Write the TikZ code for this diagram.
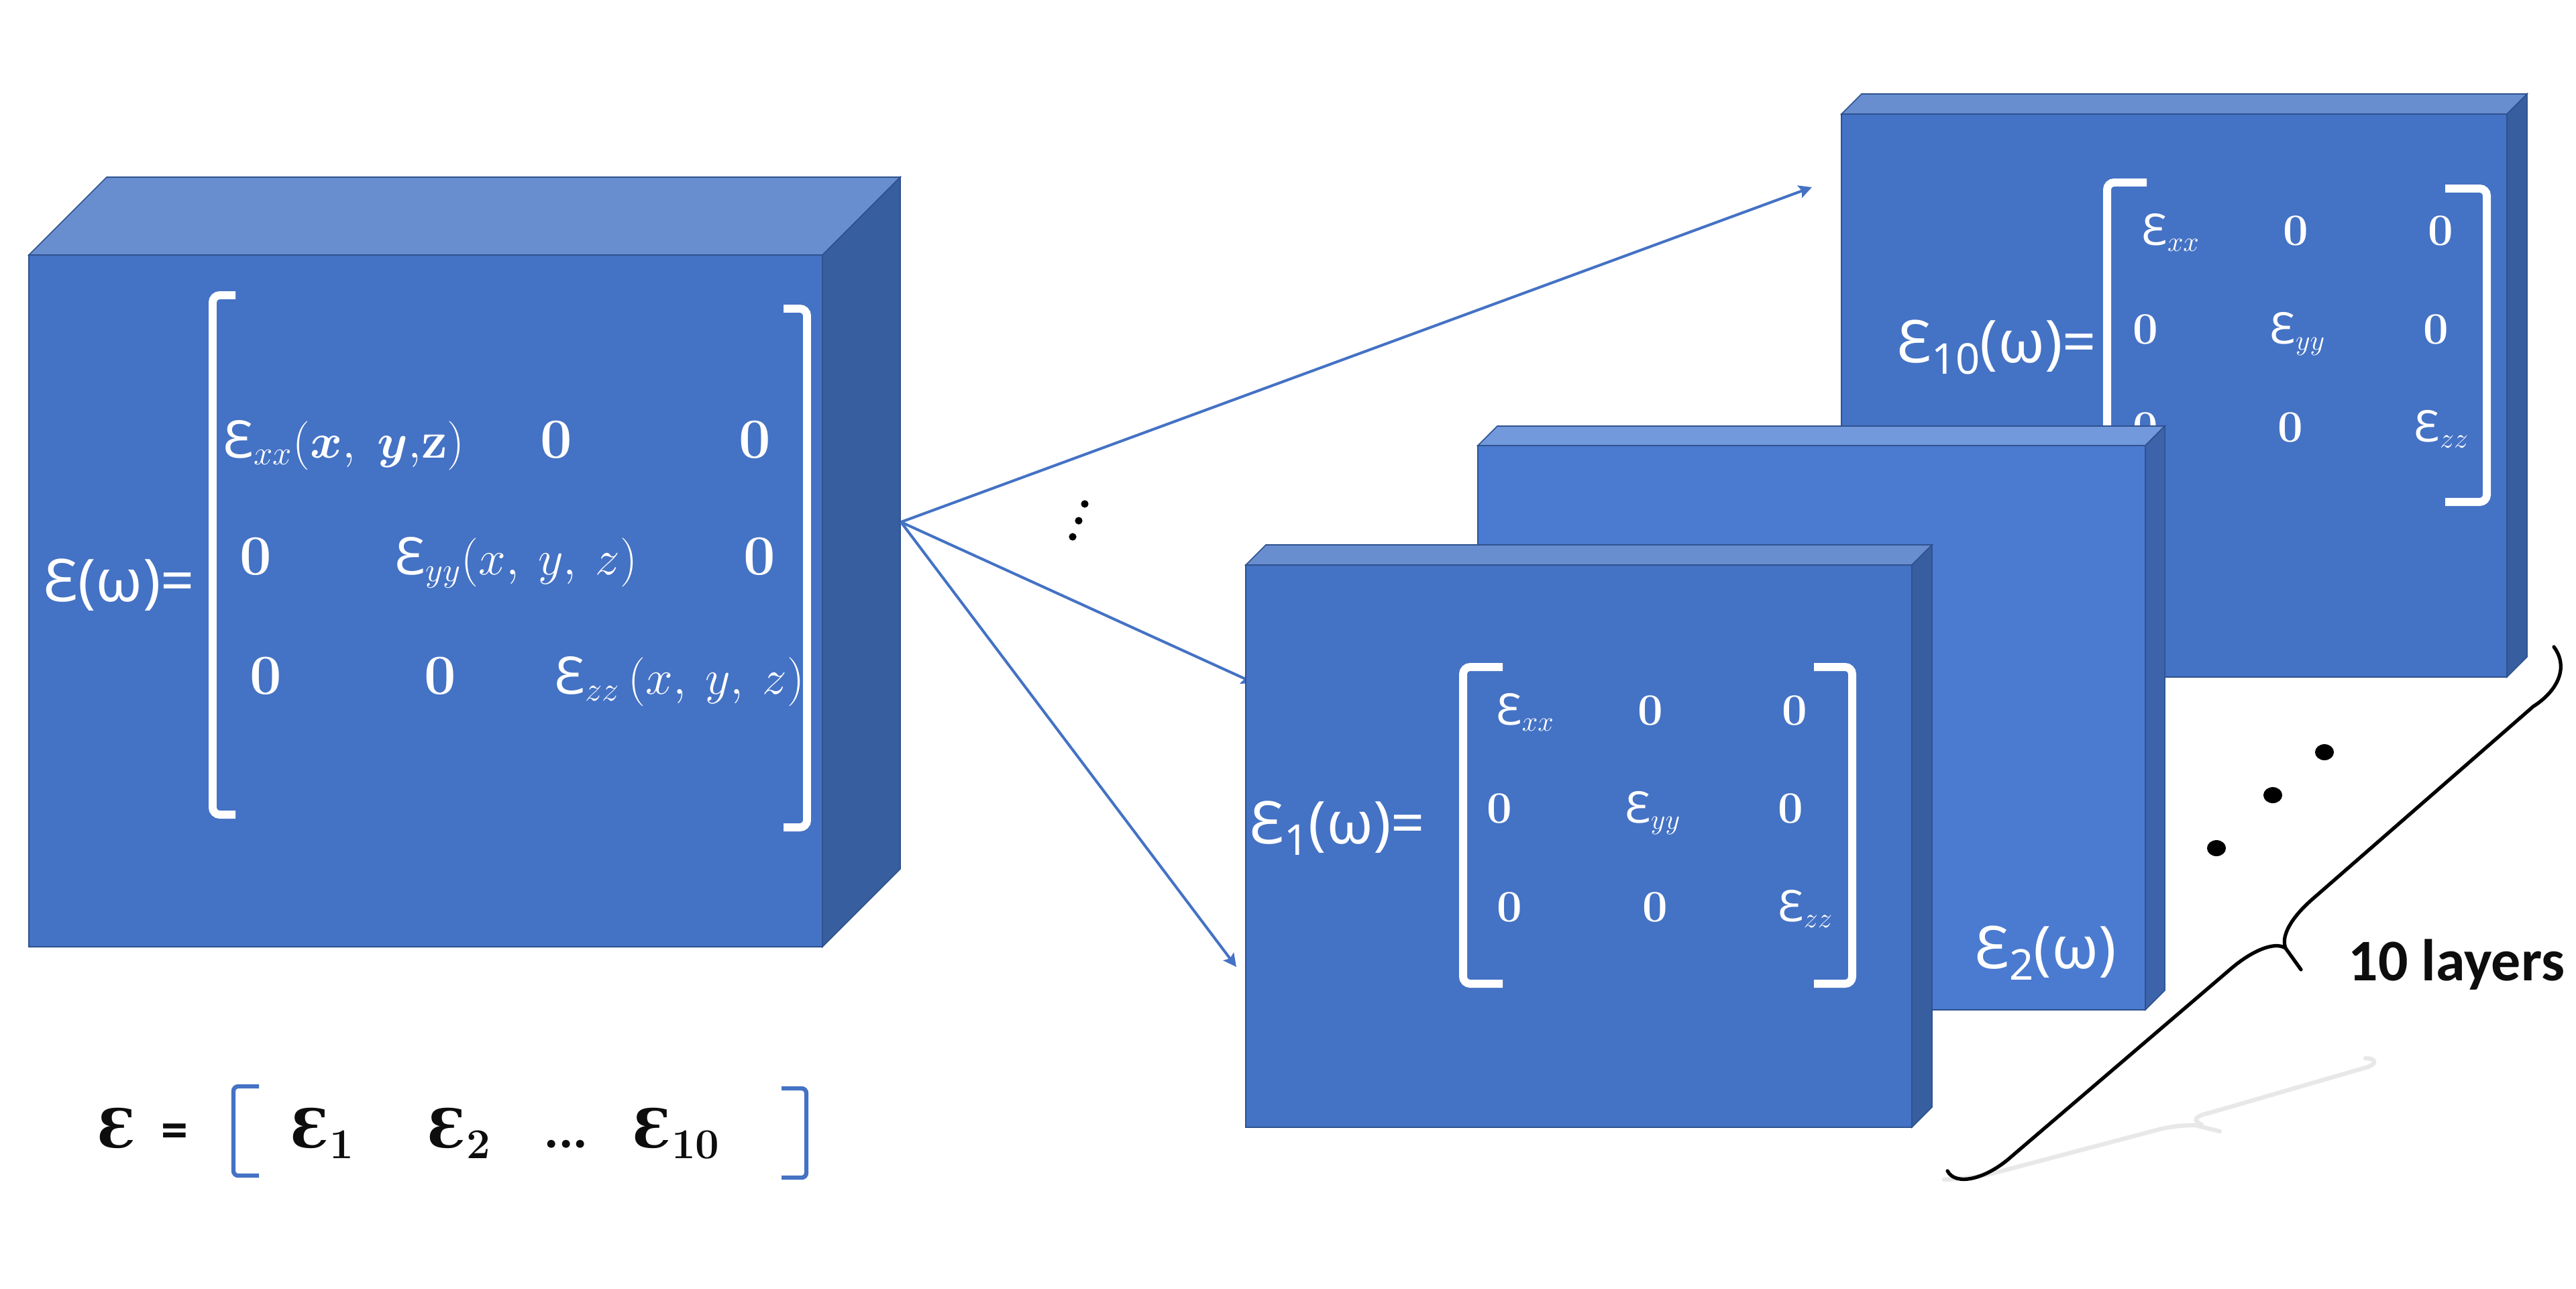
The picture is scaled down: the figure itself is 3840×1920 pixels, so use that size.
\documentclass[tikz,border=0pt]{standalone}
\usepackage{amsmath}
\usepackage{graphicx}
\usepackage{fontspec}
\usetikzlibrary{arrows.meta}
\newfontfamily\nsans{Noto Sans}
\newfontfamily\dserif{DejaVu Serif}
\newfontfamily\carlito{Carlito}
\newcommand{\Eps}{{\nsans Ɛ}}
\newcommand{\bsub}[1]{\raisebox{-4.8pt}{\fontsize{18pt}{18pt}\selectfont\bfseries #1}}
\newcommand{\lsub}[1]{\raisebox{-5pt}{\fontsize{18pt}{18pt}\selectfont #1}}
\definecolor{frontA}{HTML}{4472C4}
\definecolor{topA}{HTML}{698ECF}
\definecolor{sideA}{HTML}{375E9F}
\definecolor{frontB}{HTML}{4B7BD0}
\definecolor{topB}{HTML}{7199DC}
\definecolor{sideB}{HTML}{3D64AA}
\definecolor{edgeblue}{HTML}{2F528F}
\definecolor{arrowblue}{HTML}{4472C4}
\definecolor{inkblack}{HTML}{0D0D0D}
% #1 x1, #2 y1, #3 x2, #4 y2 (front face), #5 depth, #6 colour set, #7 name
\newcommand{\drawcube}[7]{%
  \coordinate (#7-nw) at (#1,#2);
  \coordinate (#7-se) at (#3,#4);
  \filldraw[cubeedge, fill=top#6] (#1,#2) -- ({#1+#5},{#2-#5}) -- ({#3+#5},{#2-#5}) -- (#3,#2) -- cycle;
  \filldraw[cubeedge, fill=side#6] (#3,#2) -- ({#3+#5},{#2-#5}) -- ({#3+#5},{#4-#5}) -- (#3,#4) -- cycle;
  \filldraw[cubeedge, fill=front#6] (#1,#2) rectangle (#3,#4);
}
\tikzset{
  cubeedge/.style={draw=edgeblue, line width=0.45pt, line join=miter},
  lbl/.style={text=white, inner sep=0pt, anchor=base west, font=\nsans\fontsize{25pt}{30pt}\selectfont},
  entbig/.style={text=white, inner sep=0pt, font=\fontsize{22pt}{26pt}\selectfont},
  zerobig/.style={text=white, inner sep=0pt, anchor=base, font=\bfseries\fontsize{24pt}{28pt}\selectfont},
  entsmall/.style={text=white, inner sep=0pt, font=\fontsize{18.5pt}{22pt}\selectfont},
  zerosmall/.style={text=white, inner sep=0pt, anchor=base, font=\bfseries\fontsize{19pt}{22pt}\selectfont},
  brk/.style={draw=white, line width=3.4pt, rounded corners=3pt},
  bluebrk/.style={draw=arrowblue, line width=1.8pt, rounded corners=2pt},
  arr/.style={draw=arrowblue, line width=1.15pt, -{Stealth[length=5.5pt,width=5.5pt,inset=1pt]}},
  bot/.style={text=inkblack, inner sep=0pt, anchor=base west, font=\fontsize{22.7pt}{27pt}\selectfont},
  bracestyle/.style={draw=black, line width=1.5pt, line cap=round, line join=round},
  shadowline/.style={draw=black!9, line width=1.8pt, line cap=round}
}
\begin{document}
\begin{tikzpicture}[x=0.01cm, y=-0.01cm]
\useasboundingbox (0,0) rectangle (3840,1920);
\fill[white] (0,0) rectangle (3840,1920);

% ---------------- big cube ----------------
\drawcube{43}{380}{1226}{1411}{116}{A}{big}
\node[lbl] (biglbl) at (64,896) {Ɛ(ω)=};
\draw[brk] (351,440) -- (317,440) -- (317,1214) -- (351,1214);
\draw[brk] (1168,460) -- (1203,460) -- (1203,1233) -- (1168,1233);
\node[entbig, anchor=base west] (b11) at (332,682) {\Eps$_{xx}(\boldsymbol{x},\;\boldsymbol{y},$\textbf{z}$)$};
\node[zerobig] (b12) at (829,682) {0};
\node[zerobig] (b13) at (1125,682) {0};
\node[zerobig] (b21) at (381,856) {0};
\node[entbig, anchor=base west] (b22) at (588,856) {\Eps$_{yy}(x,\:y,\:z)$};
\node[zerobig] (b23) at (1132,856) {0};
\node[zerobig] (b31) at (396,1034) {0};
\node[zerobig] (b32) at (656,1034) {0};
\node[entbig, anchor=base west] (b33) at (826,1034) {\Eps$_{zz}\,(x,\:y,\:z)$};

% ---------------- arrows ----------------
\coordinate (src) at (1343,778);
\coordinate (t10) at (2701,279);
\coordinate (t2) at (1870,1018);
\coordinate (t1) at (1843,1441);
\draw[arr] (src) -- (t10);
\draw[arr] (src) -- (t2);
\draw[arr] (src) -- (t1);
\fill[black] (1617,751) circle (1.6pt);
\fill[black] (1608,776) circle (1.6pt);
\fill[black] (1599,800) circle (1.6pt);

% ---------------- layer 10 ----------------
\drawcube{2745}{170}{3737}{1009}{30}{A}{ten}
\node[lbl] (tenlbl) at (2827,540) {Ɛ\lsub{10}(ω)=};
\draw[brk] (3200,272) -- (3141,272) -- (3141,742) -- (3200,742);
\draw[brk] (3645,281) -- (3707,281) -- (3707,748) -- (3645,748);
\node[entsmall, anchor=base west] (t11) at (3192,365) {\Eps$_{xx}$};
\node[zerosmall] (t12) at (3422,365) {0};
\node[zerosmall] (t13) at (3638,365) {0};
\node[zerosmall] (t21) at (3198,512) {0};
\node[entsmall, anchor=base west] (t22) at (3383,512) {\Eps$_{yy}$};
\node[zerosmall] (t23) at (3631,512) {0};
\node[zerosmall] (t31) at (3198,658) {0};
\node[zerosmall] (t32) at (3414,658) {0};
\node[entsmall, anchor=base west] (t33) at (3598,658) {\Eps$_{zz}$};

% ---------------- layer 2 ----------------
\drawcube{2203}{664}{3198}{1505}{29}{B}{two}
\node[lbl] (twolbl) at (2943,1443) {Ɛ\lsub{2}(ω)};

% ---------------- layer 1 ----------------
\drawcube{1857}{842}{2850}{1680}{30}{A}{one}
\node[lbl] (onelbl) at (1862,1257) {Ɛ\lsub{1}(ω)=};
\draw[brk] (2240,994) -- (2181,994) -- (2181,1466) -- (2240,1466);
\draw[brk] (2704,994) -- (2761,994) -- (2761,1466) -- (2704,1466);
\node[entsmall, anchor=base west] (o11) at (2230,1080) {\Eps$_{xx}$};
\node[zerosmall] (o12) at (2460,1080) {0};
\node[zerosmall] (o13) at (2675,1080) {0};
\node[zerosmall] (o21) at (2235,1226) {0};
\node[entsmall, anchor=base west] (o22) at (2422,1226) {\Eps$_{yy}$};
\node[zerosmall] (o23) at (2669,1226) {0};
\node[zerosmall] (o31) at (2250,1373) {0};
\node[zerosmall] (o32) at (2467,1373) {0};
\node[entsmall, anchor=base west] (o33) at (2650,1373) {\Eps$_{zz}$};

% ---------------- dots between layers ----------------
\fill[black] (3465,1121) ellipse [x radius=4pt, y radius=3.4pt];
\fill[black] (3388,1185) ellipse [x radius=4pt, y radius=3.4pt];
\fill[black] (3304,1264) ellipse [x radius=4pt, y radius=3.4pt];

% ---------------- brace and its faint reflection ----------------
\draw[shadowline] (2898,1758) .. controls (2930,1757) and (2960,1752) .. (2992,1743) -- (3219,1683) .. controls (3240,1678) and (3255,1677) .. (3273,1677) -- (3309,1686);
\draw[shadowline] (3282,1676) .. controls (3268,1670) and (3272,1663) .. (3292,1659) -- (3530,1590) .. controls (3545,1584) and (3540,1577) .. (3526,1577);
\draw[bracestyle] (3807,964) .. controls (3830,995) and (3812,1030) .. (3776,1053) -- (3447,1340) .. controls (3415,1368) and (3400,1395) .. (3407,1413) -- (3430,1445);
\draw[bracestyle] (3407,1413) .. controls (3390,1402) and (3355,1418) .. (3324,1445) -- (2999,1723) .. controls (2960,1758) and (2915,1768) .. (2903,1745);
\node[anchor=base west, inner sep=0pt, text=inkblack, font=\carlito\bfseries\fontsize{25pt}{30pt}\selectfont] (layers) at (3500,1461) {10 layers};

% ---------------- bottom formula ----------------
\node[bot] (be) at (145,1710) {{\dserif\bfseries Ɛ}};
\node[bot] (beq) at (240,1710) {{\carlito\bfseries =}};
\draw[bluebrk] (386,1619) -- (348,1619) -- (348,1752) -- (386,1752);
\node[bot] (be1) at (433,1710) {{\dserif\bfseries Ɛ}\bsub{1}};
\node[bot] (be2) at (637,1710) {{\dserif\bfseries Ɛ}\bsub{2}};
\node[bot] (bdots) at (811,1710) {{\carlito\bfseries ...}};
\node[bot] (be10) at (943,1710) {{\dserif\bfseries Ɛ}\bsub{10}};
\draw[bluebrk] (1165,1622) -- (1202,1622) -- (1202,1755) -- (1165,1755);
\end{tikzpicture}
\end{document}
